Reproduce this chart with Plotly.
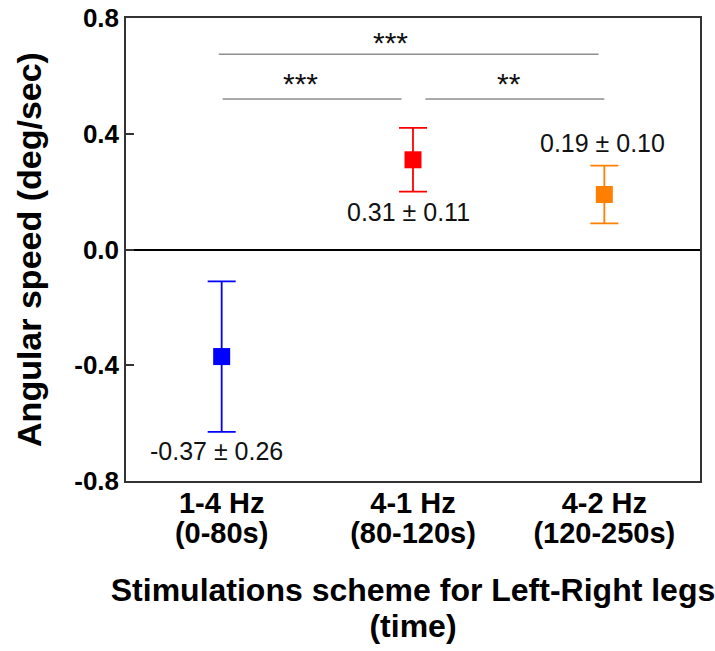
import plotly.graph_objects as go

tick_line1 = ["1-4 Hz", "4-1 Hz", "4-2 Hz"]
tick_line2 = ["(0-80s)", "(80-120s)", "(120-250s)"]
x_pos = [1, 2, 3]
means = [-0.37, 0.31, 0.19]
errors = [0.26, 0.11, 0.10]
colors = ["#0000FF", "#FF0000", "#FF8000"]
labels = ["-0.37 ± 0.26", "0.31 ± 0.11", "0.19 ± 0.10"]
y_ticks = [0.8, 0.4, 0.0, -0.4, -0.8]
y_ticktext = ["0.8", "0.4", "0.0", "-0.4", "-0.8"]

# significance brackets: (x0, x1, y), star texts: (text, x, y)
sig_lines = [(0.985, 2.97, 0.675), (1.005, 1.94, 0.52), (2.065, 3.0, 0.52)]
sig_texts = [("***", 1.88, 0.717), ("***", 1.41, 0.575), ("**", 2.5, 0.572)]
label_pos = [(0.975, -0.695), (1.976, 0.128), (2.99, 0.367)]

FONT = "Liberation Sans, Arial, sans-serif"


def big(s, px):
    return f"<span style='font-size:{px}px'>{s}</span>"


categories = [big(a, 29) + "<br>" + big(b, 29) for a, b in zip(tick_line1, tick_line2)]
x_title = big("Stimulations scheme for Left-Right legs", 32) + "<br>" + big("(time)", 32)

fig = go.Figure()
for i in range(3):
    fig.add_trace(go.Scatter(
        x=[x_pos[i]], y=[means[i]], mode="markers",
        marker=dict(symbol="square", size=17, color=colors[i]),
        error_y=dict(type="data", array=[errors[i]], color=colors[i],
                     thickness=1.8, width=14, visible=True),
        showlegend=False,
    ))

for (x0, x1, y) in sig_lines:
    fig.add_shape(type="line", x0=x0, x1=x1, y0=y, y1=y, xref="x", yref="y",
                  line=dict(color="#555555", width=1))
for (t, x, y) in sig_texts:
    fig.add_annotation(x=x, y=y, text=t, showarrow=False,
                       font=dict(family=FONT, size=30, color="#111"))
for (lab, (x, y)) in zip(labels, label_pos):
    fig.add_annotation(x=x, y=y, text=lab, showarrow=False,
                       font=dict(family=FONT, size=25, color="#111"))

fig.update_layout(
    width=715, height=651,
    margin=dict(l=126, r=15, t=18, b=170),
    plot_bgcolor="white", paper_bgcolor="white",
    font=dict(family=FONT, color="black"),
)
fig.update_xaxes(
    range=[0.5, 3.5], tickvals=x_pos, ticktext=categories,
    tickfont=dict(family=FONT, size=23, weight="bold", color="black"),
    ticklabelstandoff=3,
    showline=True, mirror=True, linecolor="#333", linewidth=1.5,
    showgrid=False, zeroline=False, ticks="", automargin=False,
    title=dict(text=x_title,
               font=dict(family=FONT, size=28, weight="bold", color="black"),
               standoff=33),
)
fig.update_yaxes(
    range=[-0.8, 0.8], tickvals=y_ticks, ticktext=y_ticktext,
    tickfont=dict(family=FONT, size=26, weight="bold", color="black"),
    showline=True, mirror=True, linecolor="#333", linewidth=1.5,
    showgrid=False, zeroline=True, zerolinecolor="black", zerolinewidth=1.5,
    ticks="inside", ticklen=8, tickcolor="#333", tickwidth=1.5, automargin=False,
    title=dict(text="Angular speed (deg/sec)",
               font=dict(family=FONT, size=34, weight="bold", color="black"),
               standoff=22),
)

fig.write_html("out.html")
